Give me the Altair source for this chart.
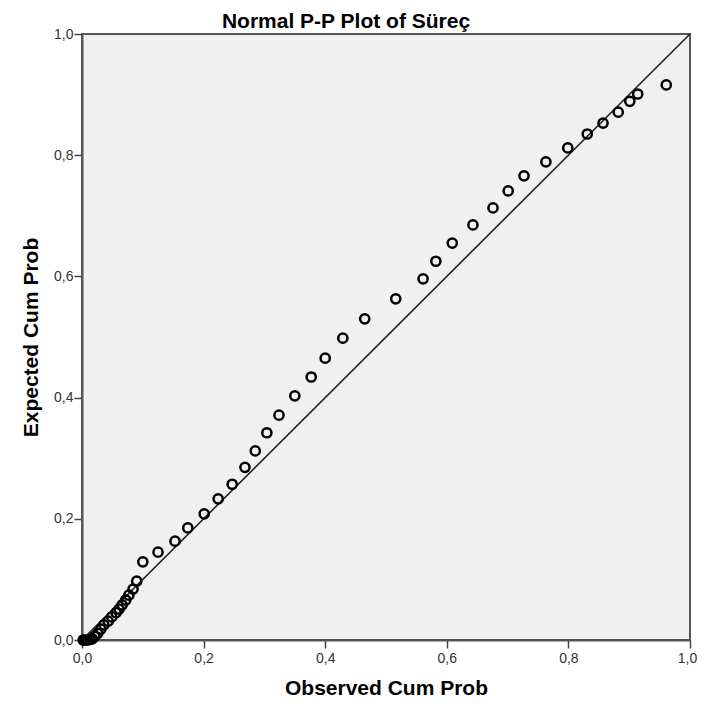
import altair as alt
import pandas as pd

observed = [0.002, 0.005, 0.009, 0.013, 0.017, 0.021, 0.026, 0.031, 0.036, 0.043,
            0.049, 0.056, 0.061, 0.066, 0.072, 0.077, 0.084, 0.090, 0.100, 0.125,
            0.153, 0.174, 0.201, 0.224, 0.247, 0.268, 0.285, 0.304, 0.324, 0.350,
            0.377, 0.400, 0.429, 0.465, 0.516, 0.561, 0.582, 0.609, 0.643, 0.676,
            0.701, 0.727, 0.763, 0.799, 0.831, 0.857, 0.882, 0.901, 0.914, 0.961]
expected = [0.000, 0.000, 0.000, 0.001, 0.002, 0.006, 0.011, 0.018, 0.025, 0.031,
            0.038, 0.045, 0.051, 0.058, 0.066, 0.074, 0.084, 0.097, 0.129, 0.145,
            0.163, 0.185, 0.208, 0.233, 0.257, 0.285, 0.312, 0.342, 0.371, 0.403,
            0.434, 0.465, 0.498, 0.530, 0.563, 0.596, 0.625, 0.655, 0.685, 0.713,
            0.741, 0.766, 0.789, 0.812, 0.835, 0.853, 0.871, 0.889, 0.901, 0.916]
line_x = [0.0, 1.0]
line_y = [0.0, 1.0]
ticks = [0.0, 0.2, 0.4, 0.6, 0.8, 1.0]

pts = pd.DataFrame({"obs": observed, "exp": expected})
ln = pd.DataFrame({"obs": line_x, "exp": line_y})

lab = "replace(format(datum.value, '.1f'), '.', ',')"
font = "Liberation Sans"

xscale = alt.Scale(domain=[0, 1], nice=False, zero=False)
yscale = alt.Scale(domain=[0, 1], nice=False, zero=False)

common = dict(values=ticks, labelExpr=lab, grid=False,
              titleFontSize=21, titleFont=font, titleFontWeight="bold", titleColor="#000",
              labelFont=font, labelFontSize=14, labelColor="#333", tickSize=8,
              tickColor="#444", tickWidth=1.5, domainColor="#555", domainWidth=2,
              labelFlush=False)
xaxis = alt.Axis(title="Observed Cum Prob", titlePadding=12, labelPadding=3,
                 labelOffset={"condition": {"test": "datum.value == 1", "value": -3}, "value": 0},
                 **common)
yaxis = alt.Axis(title="Expected Cum Prob", titlePadding=12, labelPadding=1, **common)

line = alt.Chart(ln).mark_line(color="#222", strokeWidth=1.6).encode(
    x=alt.X("obs:Q", scale=xscale, axis=xaxis),
    y=alt.Y("exp:Q", scale=yscale, axis=yaxis),
)
points = alt.Chart(pts).mark_point(shape="circle", filled=False, color="#000",
                                   strokeWidth=2.5, size=85, opacity=1).encode(
    x=alt.X("obs:Q", scale=xscale),
    y=alt.Y("exp:Q", scale=yscale),
)

chart = (line + points).properties(
    width=608, height=606,
    title=alt.TitleParams("Normal P-P Plot of Süreç", font=font, fontSize=21,
                          fontWeight="bold", color="#000", offset=2, dx=-40, dy=7),
    autosize=alt.AutoSizeParams(type="none"),
    padding={"left": 74, "top": 26, "right": 8, "bottom": 62},
).configure_view(fill="#f0f0f0", stroke="#555", strokeWidth=2)

chart.save("out.html", embed_options={"renderer": "svg", "actions": False})
